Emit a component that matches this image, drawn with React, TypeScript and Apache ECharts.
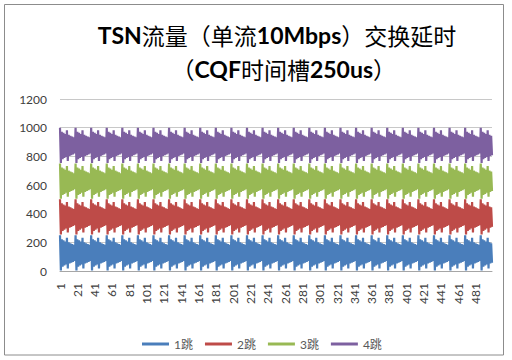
import React, { useEffect, useRef } from "react";
import * as echarts from "echarts";

const seriesNames = ["1跳", "2跳", "3跳", "4跳"];
const seriesColors = ["#4A7EBB", "#BE4B48", "#98B954", "#7D60A0"];
const yTicks = [0, 200, 400, 600, 800, 1000, 1200];

const hop1 = [
250,4,222,30,214,38,206,46,232,18,200,52,194,58,188,64,182,70,
250,4,222,30,214,38,206,46,232,18,200,52,194,58,188,64,182,70,
250,4,222,30,214,38,206,46,232,18,200,52,194,58,188,64,182,70,
250,4,222,30,214,38,206,46,232,18,200,52,194,58,188,64,182,70,
250,4,222,30,214,38,206,46,232,18,200,52,194,58,188,64,182,70,
250,4,222,30,214,38,206,46,232,18,200,52,194,58,188,64,182,70,
250,4,222,30,214,38,206,46,232,18,200,52,194,58,188,64,182,70,
250,4,222,30,214,38,206,46,232,18,200,52,194,58,188,64,182,70,
250,4,222,30,214,38,206,46,232,18,200,52,194,58,188,64,182,70,
250,4,222,30,214,38,206,46,232,18,200,52,194,58,188,64,182,70,
250,4,222,30,214,38,206,46,232,18,200,52,194,58,188,64,182,70,
250,4,222,30,214,38,206,46,232,18,200,52,194,58,188,64,182,70,
250,4,222,30,214,38,206,46,232,18,200,52,194,58,188,64,182,70,
250,4,222,30,214,38,206,46,232,18,200,52,194,58,188,64,182,70,
250,4,222,30,214,38,206,46,232,18,200,52,194,58,188,64,182,70,
250,4,222,30,214,38,206,46,232,18,200,52,194,58,188,64,182,70,
250,4,222,30,214,38,206,46,232,18,200,52,194,58,188,64,182,70,
250,4,222,30,214,38,206,46,232,18,200,52,194,58,188,64,182,70,
250,4,222,30,214,38,206,46,232,18,200,52,194,58,188,64,182,70,
250,4,222,30,214,38,206,46,232,18,200,52,194,58,188,64,182,70,
250,4,222,30,214,38,206,46,232,18,200,52,194,58,188,64,182,70,
250,4,222,30,214,38,206,46,232,18,200,52,194,58,188,64,182,70,
250,4,222,30,214,38,206,46,232,18,200,52,194,58,188,64,182,70,
250,4,222,30,214,38,206,46,232,18,200,52,194,58,188,64,182,70,
250,4,222,30,214,38,206,46,232,18,200,52,194,58,188,64,182,70,
250,4,222,30,214,38,206,46,232,18,200,52,194,58,188,64,182,70,
250,4,222,30,214,38,206,46,232,18,200,52,194,58,188,64,182,70,
250,4,222,30,214,38,206,46,232,18,200,52,194,58
];

const hop2 = [
500,254,472,280,464,288,456,296,482,268,450,302,444,308,438,314,432,320,
500,254,472,280,464,288,456,296,482,268,450,302,444,308,438,314,432,320,
500,254,472,280,464,288,456,296,482,268,450,302,444,308,438,314,432,320,
500,254,472,280,464,288,456,296,482,268,450,302,444,308,438,314,432,320,
500,254,472,280,464,288,456,296,482,268,450,302,444,308,438,314,432,320,
500,254,472,280,464,288,456,296,482,268,450,302,444,308,438,314,432,320,
500,254,472,280,464,288,456,296,482,268,450,302,444,308,438,314,432,320,
500,254,472,280,464,288,456,296,482,268,450,302,444,308,438,314,432,320,
500,254,472,280,464,288,456,296,482,268,450,302,444,308,438,314,432,320,
500,254,472,280,464,288,456,296,482,268,450,302,444,308,438,314,432,320,
500,254,472,280,464,288,456,296,482,268,450,302,444,308,438,314,432,320,
500,254,472,280,464,288,456,296,482,268,450,302,444,308,438,314,432,320,
500,254,472,280,464,288,456,296,482,268,450,302,444,308,438,314,432,320,
500,254,472,280,464,288,456,296,482,268,450,302,444,308,438,314,432,320,
500,254,472,280,464,288,456,296,482,268,450,302,444,308,438,314,432,320,
500,254,472,280,464,288,456,296,482,268,450,302,444,308,438,314,432,320,
500,254,472,280,464,288,456,296,482,268,450,302,444,308,438,314,432,320,
500,254,472,280,464,288,456,296,482,268,450,302,444,308,438,314,432,320,
500,254,472,280,464,288,456,296,482,268,450,302,444,308,438,314,432,320,
500,254,472,280,464,288,456,296,482,268,450,302,444,308,438,314,432,320,
500,254,472,280,464,288,456,296,482,268,450,302,444,308,438,314,432,320,
500,254,472,280,464,288,456,296,482,268,450,302,444,308,438,314,432,320,
500,254,472,280,464,288,456,296,482,268,450,302,444,308,438,314,432,320,
500,254,472,280,464,288,456,296,482,268,450,302,444,308,438,314,432,320,
500,254,472,280,464,288,456,296,482,268,450,302,444,308,438,314,432,320,
500,254,472,280,464,288,456,296,482,268,450,302,444,308,438,314,432,320,
500,254,472,280,464,288,456,296,482,268,450,302,444,308,438,314,432,320,
500,254,472,280,464,288,456,296,482,268,450,302,444,308
];

const hop3 = [
750,504,722,530,714,538,706,546,732,518,700,552,694,558,688,564,682,570,
750,504,722,530,714,538,706,546,732,518,700,552,694,558,688,564,682,570,
750,504,722,530,714,538,706,546,732,518,700,552,694,558,688,564,682,570,
750,504,722,530,714,538,706,546,732,518,700,552,694,558,688,564,682,570,
750,504,722,530,714,538,706,546,732,518,700,552,694,558,688,564,682,570,
750,504,722,530,714,538,706,546,732,518,700,552,694,558,688,564,682,570,
750,504,722,530,714,538,706,546,732,518,700,552,694,558,688,564,682,570,
750,504,722,530,714,538,706,546,732,518,700,552,694,558,688,564,682,570,
750,504,722,530,714,538,706,546,732,518,700,552,694,558,688,564,682,570,
750,504,722,530,714,538,706,546,732,518,700,552,694,558,688,564,682,570,
750,504,722,530,714,538,706,546,732,518,700,552,694,558,688,564,682,570,
750,504,722,530,714,538,706,546,732,518,700,552,694,558,688,564,682,570,
750,504,722,530,714,538,706,546,732,518,700,552,694,558,688,564,682,570,
750,504,722,530,714,538,706,546,732,518,700,552,694,558,688,564,682,570,
750,504,722,530,714,538,706,546,732,518,700,552,694,558,688,564,682,570,
750,504,722,530,714,538,706,546,732,518,700,552,694,558,688,564,682,570,
750,504,722,530,714,538,706,546,732,518,700,552,694,558,688,564,682,570,
750,504,722,530,714,538,706,546,732,518,700,552,694,558,688,564,682,570,
750,504,722,530,714,538,706,546,732,518,700,552,694,558,688,564,682,570,
750,504,722,530,714,538,706,546,732,518,700,552,694,558,688,564,682,570,
750,504,722,530,714,538,706,546,732,518,700,552,694,558,688,564,682,570,
750,504,722,530,714,538,706,546,732,518,700,552,694,558,688,564,682,570,
750,504,722,530,714,538,706,546,732,518,700,552,694,558,688,564,682,570,
750,504,722,530,714,538,706,546,732,518,700,552,694,558,688,564,682,570,
750,504,722,530,714,538,706,546,732,518,700,552,694,558,688,564,682,570,
750,504,722,530,714,538,706,546,732,518,700,552,694,558,688,564,682,570,
750,504,722,530,714,538,706,546,732,518,700,552,694,558,688,564,682,570,
750,504,722,530,714,538,706,546,732,518,700,552,694,558
];

const hop4 = [
1000,754,972,780,964,788,956,796,982,768,950,802,944,808,938,814,932,820,
1000,754,972,780,964,788,956,796,982,768,950,802,944,808,938,814,932,820,
1000,754,972,780,964,788,956,796,982,768,950,802,944,808,938,814,932,820,
1000,754,972,780,964,788,956,796,982,768,950,802,944,808,938,814,932,820,
1000,754,972,780,964,788,956,796,982,768,950,802,944,808,938,814,932,820,
1000,754,972,780,964,788,956,796,982,768,950,802,944,808,938,814,932,820,
1000,754,972,780,964,788,956,796,982,768,950,802,944,808,938,814,932,820,
1000,754,972,780,964,788,956,796,982,768,950,802,944,808,938,814,932,820,
1000,754,972,780,964,788,956,796,982,768,950,802,944,808,938,814,932,820,
1000,754,972,780,964,788,956,796,982,768,950,802,944,808,938,814,932,820,
1000,754,972,780,964,788,956,796,982,768,950,802,944,808,938,814,932,820,
1000,754,972,780,964,788,956,796,982,768,950,802,944,808,938,814,932,820,
1000,754,972,780,964,788,956,796,982,768,950,802,944,808,938,814,932,820,
1000,754,972,780,964,788,956,796,982,768,950,802,944,808,938,814,932,820,
1000,754,972,780,964,788,956,796,982,768,950,802,944,808,938,814,932,820,
1000,754,972,780,964,788,956,796,982,768,950,802,944,808,938,814,932,820,
1000,754,972,780,964,788,956,796,982,768,950,802,944,808,938,814,932,820,
1000,754,972,780,964,788,956,796,982,768,950,802,944,808,938,814,932,820,
1000,754,972,780,964,788,956,796,982,768,950,802,944,808,938,814,932,820,
1000,754,972,780,964,788,956,796,982,768,950,802,944,808,938,814,932,820,
1000,754,972,780,964,788,956,796,982,768,950,802,944,808,938,814,932,820,
1000,754,972,780,964,788,956,796,982,768,950,802,944,808,938,814,932,820,
1000,754,972,780,964,788,956,796,982,768,950,802,944,808,938,814,932,820,
1000,754,972,780,964,788,956,796,982,768,950,802,944,808,938,814,932,820,
1000,754,972,780,964,788,956,796,982,768,950,802,944,808,938,814,932,820,
1000,754,972,780,964,788,956,796,982,768,950,802,944,808,938,814,932,820,
1000,754,972,780,964,788,956,796,982,768,950,802,944,808,938,814,932,820,
1000,754,972,780,964,788,956,796,982,768,950,802,944,808
];

const seriesData = [hop1, hop2, hop3, hop4];
const categories = hop1.map((_, i) => String(i + 1));

// Latin runs are bold, CJK runs use the plain base style
const titleLine1 = "{b|TSN}流量（单流{b|10Mbps}）交换延时";
const titleLine2a = "（{b|CQF}时间槽{b|250us}";
const titleLine2b = "）";

const LATIN = "Lato, 'Noto Sans', sans-serif";
const CJK = "'Noto Sans CJK SC', sans-serif";
const MIXED = "Lato, 'Noto Sans CJK SC', sans-serif";
const TITLE_SIZE = 23;

const richTitle = {
  b: { fontFamily: LATIN, fontWeight: "bold", fontSize: TITLE_SIZE, fill: "#000", lineHeight: 27 },
};

const titleText = (x: number, y: number, text: string, align: string) => ({
  type: "text",
  x,
  y,
  style: {
    text,
    rich: richTitle,
    fontFamily: CJK,
    fontWeight: "normal",
    fontSize: TITLE_SIZE,
    lineHeight: 27,
    fill: "#000",
    textAlign: align,
    textVerticalAlign: "middle",
  },
});

export default function App() {
  const ref = useRef<HTMLDivElement>(null);
  useEffect(() => {
    if (!ref.current) return;
    const chart = echarts.init(ref.current, undefined, { renderer: "svg" });
    chart.setOption({
      animation: false,
      backgroundColor: "#ffffff",
      graphic: [
        {
          type: "rect",
          shape: { x: 4.5, y: 4.5, width: 499, height: 350.5 },
          style: { fill: "none", stroke: "#8c8c8c", lineWidth: 1 },
          silent: true,
        },
        titleText(277, 35, titleLine1, "center"),
        titleText(373, 69, titleLine2a, "right"),
        titleText(373, 69, titleLine2b, "left"),
      ],
      legend: {
        left: 137,
        top: 333,
        itemWidth: 27,
        itemHeight: 14,
        itemGap: 12,
        icon: "path://M0,5.5 L27,5.5 L27,8.5 L0,8.5 Z",
        formatter: "{t|{name}}",
        textStyle: {
          fontFamily: MIXED,
          fontSize: 12,
          color: "#595959",
          rich: { t: { fontFamily: MIXED, fontSize: 12, color: "#595959" } },
        },
        data: seriesNames,
      },
      grid: { left: 60, right: 20, top: 99, bottom: 89, containLabel: false },
      xAxis: {
        type: "category",
        data: categories,
        boundaryGap: false,
        axisLine: { show: true, lineStyle: { color: "#a6a6a6", width: 1 } },
        axisTick: { show: false },
        axisLabel: {
          interval: 19,
          rotate: 90,
          margin: 12,
          fontFamily: LATIN,
          fontSize: 12,
          color: "#404040",
        },
        splitLine: { show: false },
      },
      yAxis: {
        type: "value",
        min: yTicks[0],
        max: yTicks[yTicks.length - 1],
        interval: 200,
        axisLine: { show: false },
        axisTick: { show: false },
        axisLabel: {
          margin: 13,
          fontFamily: LATIN,
          fontSize: 12,
          color: "#404040",
          formatter: (v: number) => String(v),
        },
        splitLine: { show: true, lineStyle: { color: "#c8c8c8", width: 1 } },
      },
      series: seriesData.map((d, i) => ({
        name: seriesNames[i],
        type: "line",
        data: d,
        symbol: "none",
        showSymbol: false,
        color: seriesColors[i],
        lineStyle: { color: seriesColors[i], width: 2.2 },
        z: 2 + i,
      })),
    });
    return () => chart.dispose();
  }, []);
  return (
    <div
      ref={ref}
      style={{ position: "fixed", left: 0, top: 0, width: 512, height: 360 }}
    />
  );
}
